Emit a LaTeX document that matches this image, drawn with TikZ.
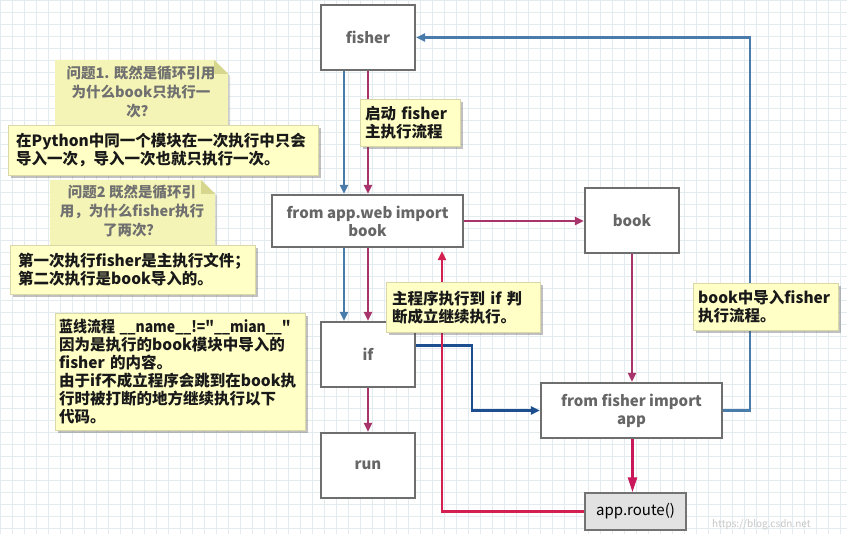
\documentclass[tikz,border=0pt]{standalone}
\usepackage{fontspec}
\setmainfont{Noto Sans CJK SC}[Ligatures=TeXOff]
\usetikzlibrary{shadows,arrows.meta,calc}
\definecolor{gridc}{HTML}{E4EBEE}
\definecolor{boxgray}{HTML}{6E6E6E}
\definecolor{txtgray}{HTML}{666666}
\definecolor{pinkc}{HTML}{A8346C}
\definecolor{routec}{HTML}{C8175A}
\definecolor{redc}{HTML}{D42050}
\definecolor{blue1}{HTML}{4A7CAB}
\definecolor{navy}{HTML}{1D4E8F}
\definecolor{notey}{HTML}{FFFFC6}
\definecolor{noteb}{HTML}{D8D8A8}
\definecolor{qfill}{HTML}{F4F4B6}
\definecolor{qfold}{HTML}{D6D68E}
\definecolor{qtxt}{HTML}{707070}
\definecolor{routefill}{HTML}{E2E2E2}
\begin{document}
\begin{tikzpicture}[x=1pt,y=-1pt,
  box/.style={draw=boxgray, line width=2.2pt, fill=white, text=txtgray, align=center,
    inner sep=0pt, font=\bfseries\fontsize{15}{18}\selectfont},
  arr/.style={line width=2.2pt, -{Triangle[length=9pt,width=8pt]}},
  note/.style={fill=notey, draw=noteb, line width=0.4pt, anchor=north west, align=left,
    inner xsep=8pt, inner ysep=3pt, text=black!90,
    drop shadow={shadow xshift=2.5pt, shadow yshift=-2.5pt, opacity=0.35, fill=black!70},
    font=\bfseries\fontsize{15.5}{18}\selectfont},
  qnote/.style={fill=qfill, drop shadow={shadow xshift=2pt, shadow yshift=-2pt, opacity=0.25, fill=black!60}},
  qtext/.style={text=qtxt, align=center, font=\bfseries\fontsize{14.5}{19}\selectfont, inner sep=0pt}
]
\useasboundingbox (0,0) rectangle (847,534);
\fill[white] (0,0) rectangle (847,534);
\foreach \i in {0,12,...,846} \draw[gridc, line width=0.5pt] (\i,0) -- (\i,534);
\foreach \j in {0,12,...,533} \draw[gridc, line width=0.5pt] (0,\j) -- (847,\j);

% boxes
\node[box, minimum width=94, minimum height=65] (fisher) at (368,37.5) {fisher};
\node[box, minimum width=191, minimum height=52] (appweb) at (367.5,221) {from app.web import\\book};
\node[box, minimum width=94, minimum height=65] (book) at (632,220.5) {book};
\node[box, minimum width=94, minimum height=65] (ifn) at (368,354.5) {if};
\node[box, minimum width=94, minimum height=65] (run) at (368,465.5) {run};
\node[box, minimum width=181, minimum height=55] (fimport) at (631.5,410.5) {from fisher import\\app};
\node[box, minimum width=101, minimum height=37, fill=routefill, line width=1.4pt, draw=black!55,
  text=black, font=\fontsize{15}{18}\selectfont] (route) at (635.5,511.5) {app.route()};

\coordinate (bx) at (750,0);
\coordinate (nv) at (472,0);

% connectors
\draw[arr, blue1] ([xshift=-24pt]fisher.south) -- ([xshift=-24pt]fisher.south |- appweb.north);
\draw[arr, pinkc] (fisher.south) -- (fisher.south |- appweb.north);
\draw[arr, blue1] ([xshift=-24pt]fisher.south |- appweb.south) -- ([xshift=-24pt]fisher.south |- ifn.north);
\draw[arr, pinkc] (fisher.south |- appweb.south) -- (fisher.south |- ifn.north);
\draw[arr, pinkc] (appweb.east) -- (appweb.east -| book.west);
\draw[arr, pinkc] (book.south) -- (book.south |- fimport.north);
\draw[line width=2.6pt, routec, -{Triangle[length=15pt,width=9pt]}] ([xshift=1pt]fimport.south) -- ([xshift=1pt]fimport.south |- route.north);
\draw[arr, navy] ([yshift=9pt]ifn.east) -| (nv |- fimport.west) -- (fimport.west);
\draw[arr, redc] (route.west) -| ([xshift=74.5pt,yshift=-3pt]appweb.south);
\draw[arr, blue1] (fimport.east) -| (bx |- fisher.east) -- (fisher.east);
\draw[arr, pinkc] (ifn.south) -- (run.north);

% question notes
\fill[qnote] (55,60) -- (214,60) -- (228,74) -- (228,128) -- (55,128) -- cycle;
\fill[qfold] (214,60) -- (214,74) -- (228,74) -- cycle;
\node[qtext] (q1) at (141,92) {问题1. 既然是循环引用\\为什么book只执行一\\次？};
\node[note, minimum width=310, minimum height=50, text width=294] (n2) at (8,125)
  {在Python中同一个模块在一次执行中只会\\导入一次，导入一次也就只执行一次。};

\fill[qnote] (50,180) -- (201,180) -- (215,194) -- (215,248) -- (50,248) -- cycle;
\fill[qfold] (201,180) -- (201,194) -- (215,194) -- cycle;
\node[qtext] (q2) at (132,211) {问题2 既然是循环引\\用，为什么fisher执行\\了两次？};
\node[note, minimum width=245, minimum height=49, text width=229] (n4) at (10,245)
  {第一次执行fisher是主执行文件；\\第二次执行是book导入的。};

\node[note, minimum width=250, minimum height=117, text width=242, inner xsep=4pt] (n8) at (55,313)
  {\scalebox{0.9}[1]{蓝线流程 \_\_name\_\_!="\_\_mian\_\_"}\\因为是执行的book模块中导入的\\fisher 的内容。\\由于if不成立程序会跳到在book执\\行时被打断的地方继续执行以下\\代码。};

\node[note, minimum width=100, minimum height=47, text width=90, inner xsep=5pt] (n5) at (360,99)
  {启动 fisher\\主执行流程};
\node[note, minimum width=154, minimum height=50, text width=142, inner xsep=6pt] (n6) at (386,282)
  {主程序执行到 if 判\\断成立继续执行。};
\node[note, minimum width=145, minimum height=47, text width=135, inner xsep=5pt] (n7) at (693,283)
  {book中导入fisher\\执行流程。};

\node[anchor=west, text=black!22, font=\fontsize{10}{12}\selectfont, inner sep=0pt] (wm) at (712,525) {https://blog.csdn.net};
\end{tikzpicture}
\end{document}
